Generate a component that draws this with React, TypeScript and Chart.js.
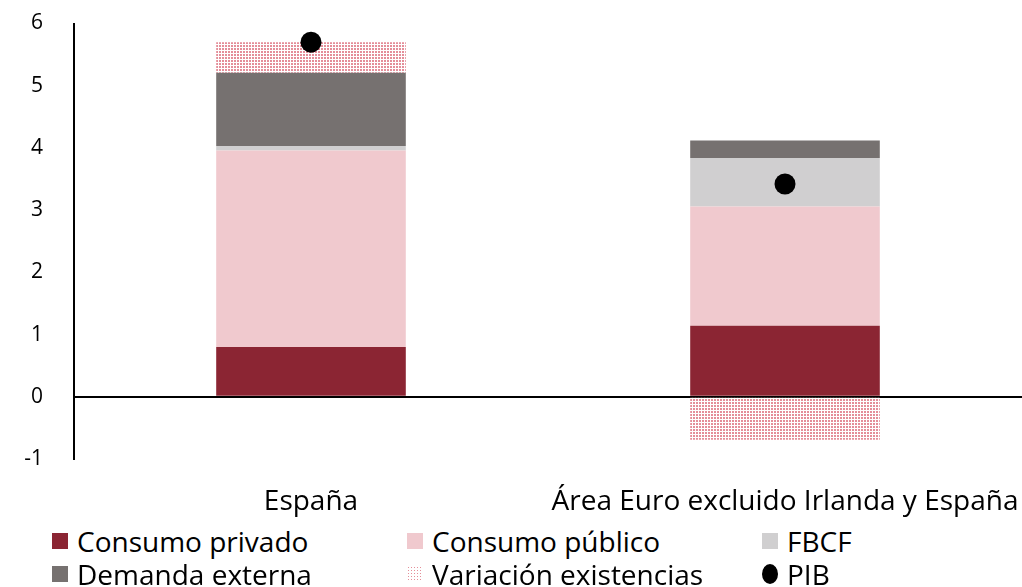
import React, { useEffect, useRef } from "react";
import { Chart, registerables } from "chart.js";

Chart.register(...registerables);

const categories = ["España", "Área Euro excluido Irlanda y España"];
const consumoPrivado = [0.8, 1.14];
const consumoPublico = [3.16, 1.92];
const fbcf = [0.07, 0.78];
const demandaExterna = [1.18, 0.28];
const variacionExistencias = [0.49, -0.69];
const pib = [5.7, 3.42];
const yTicks = [-1, 0, 1, 2, 3, 4, 5, 6];

const seriesNames = [
  "Consumo privado",
  "Consumo público",
  "FBCF",
  "Demanda externa",
  "Variación existencias",
  "PIB",
];
const colors = ["#8B2533", "#F0C9CE", "#D0CFD0", "#767170", "pattern", "#000000"];

const FONT = "'Open Sans', sans-serif";
const CANVAS_H = 520;

function makePattern(): CanvasPattern | string {
  const c = document.createElement("canvas");
  c.width = 3;
  c.height = 3;
  const x = c.getContext("2d");
  if (!x) return "#eab";
  x.fillStyle = "#ffffff";
  x.fillRect(0, 0, 3, 3);
  x.fillStyle = "#e48e99";
  x.fillRect(0, 0, 2, 2);
  const p = x.createPattern(c, "repeat");
  return p || "#eab";
}

export default function App() {
  const ref = useRef<HTMLCanvasElement | null>(null);

  useEffect(() => {
    document.body.style.margin = "0";
    const cv = ref.current;
    if (!cv) return;
    const pattern = makePattern();
    const barData = [consumoPrivado, consumoPublico, fbcf, demandaExterna, variacionExistencias];
    const datasets: any[] = barData.map((d, i) => ({
      type: "bar",
      label: seriesNames[i],
      data: d,
      backgroundColor: colors[i] === "pattern" ? pattern : colors[i],
      borderWidth: 0,
      stack: "s",
      barPercentage: 0.4,
      categoryPercentage: 1,
      order: 2,
    }));
    datasets.push({
      type: "line",
      label: seriesNames[5],
      data: pib,
      showLine: false,
      pointRadius: 10.5,
      pointHoverRadius: 10.5,
      pointBackgroundColor: "#000",
      pointBorderWidth: 0,
      order: 1,
    });
    const chart = new Chart(cv, {
      type: "bar",
      data: { labels: categories, datasets },
      options: {
        animation: false,
        responsive: false,
        maintainAspectRatio: false,
        layout: { autoPadding: false, padding: { top: 23.5, left: 0, right: 0, bottom: 0 } },
        plugins: { legend: { display: false }, tooltip: { enabled: false } },
        scales: {
          x: {
            stacked: true,
            grid: { display: false },
            border: { display: false },
            ticks: { color: "#000", font: { family: FONT, size: 28 }, padding: 18, maxRotation: 0 },
            afterFit: (s: any) => {
              s.height = CANVAS_H - 459;
              s.paddingLeft = 0;
              s.paddingRight = 0;
            },
          },
          y: {
            stacked: true,
            min: -1,
            max: 6,
            z: 1,
            afterBuildTicks: (s: any) => {
              s.ticks = yTicks.map((v) => ({ value: v }));
            },
            afterFit: (s: any) => {
              s.width = 74;
              s.paddingTop = 0;
              s.paddingBottom = 0;
            },
            grid: {
              drawTicks: false,
              color: (ctx: any) => (ctx.tick && ctx.tick.value === 0 ? "#000" : "rgba(0,0,0,0)"),
              lineWidth: 2,
            },
            border: { display: true, color: "#000", width: 2 },
            ticks: {
              color: "#000",
              font: { family: FONT, size: 21 },
              padding: 31,
              callback: (v: any) => String(v),
            },
          },
        },
      },
    });
    return () => chart.destroy();
  }, []);

  const colX = [52, 407, 762];
  const rowY = [541, 574];
  return (
    <div style={{ position: "fixed", left: 0, top: 0, width: 1022, height: 587, background: "#fff" }}>
      <canvas ref={ref} width={1022} height={CANVAS_H} style={{ display: "block", width: 1022, height: CANVAS_H }} />
      {seriesNames.map((name, i) => {
        const col = i % 3;
        const row = Math.floor(i / 3);
        const c = colors[i];
        const swatchStyle: React.CSSProperties =
          c === "pattern"
            ? {
                width: 16,
                height: 16,
                backgroundImage: "radial-gradient(#e48e99 45%, transparent 46%)",
                backgroundSize: "3px 3px",
              }
            : i === 5
            ? { width: 16, height: 20, borderRadius: "50%", background: "#000" }
            : { width: 16, height: 16, background: c };
        return (
          <div
            key={name}
            style={{
              position: "absolute",
              left: colX[col],
              top: rowY[row] - 17,
              height: 34,
              display: "flex",
              alignItems: "center",
              fontFamily: FONT,
              fontSize: 28,
              color: "#000",
              whiteSpace: "nowrap",
            }}
          >
            <div style={{ ...swatchStyle, marginRight: 9, flex: "none" }} />
            <span>{name}</span>
          </div>
        );
      })}
    </div>
  );
}
